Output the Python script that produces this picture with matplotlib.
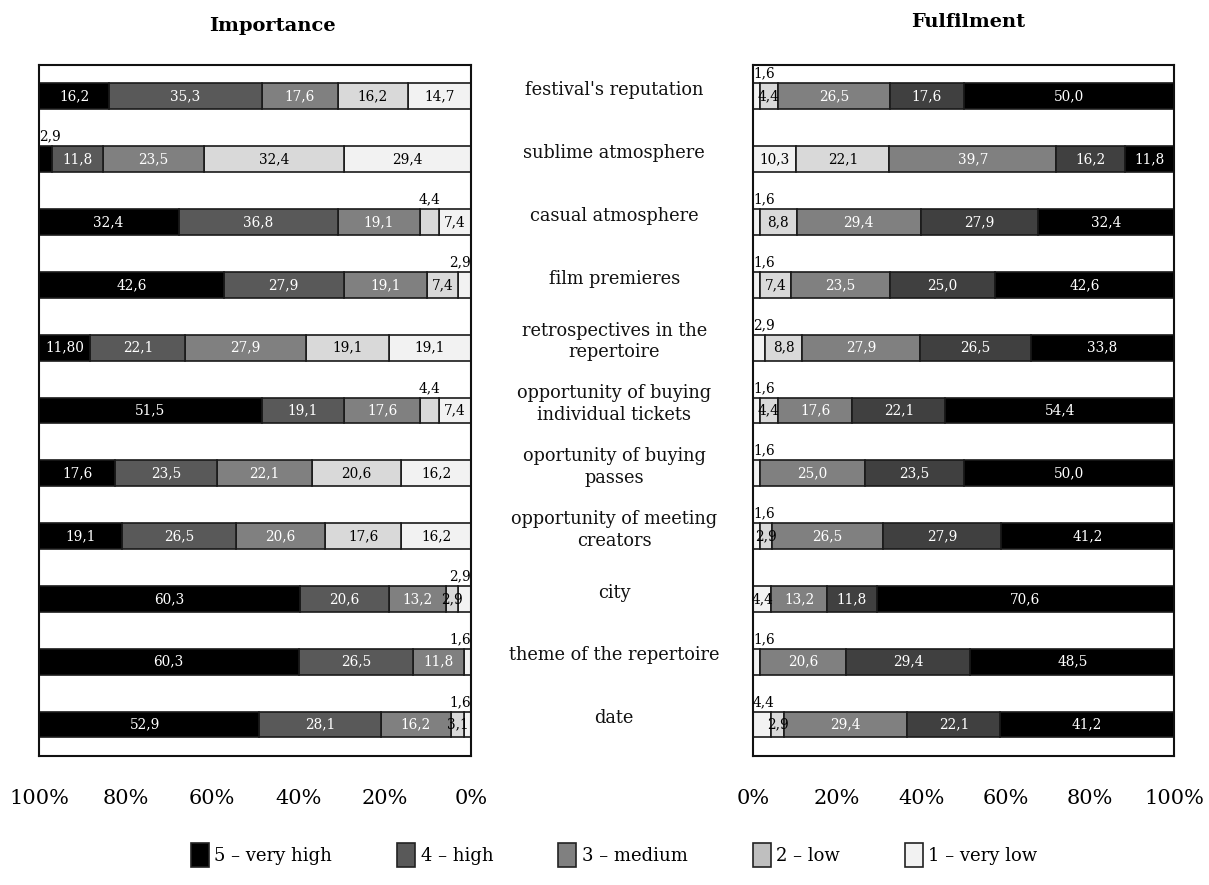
import matplotlib
matplotlib.use("Agg")
import matplotlib.pyplot as plt
import numpy as np
from matplotlib.patches import Patch
from matplotlib.transforms import blended_transform_factory

plt.rcParams['font.family'] = 'DejaVu Serif'

# --- data ---
categories = [
    "festival's reputation",
    "sublime atmosphere",
    "casual atmosphere",
    "film premieres",
    "retrospectives in the\nrepertoire",
    "opportunity of buying\nindividual tickets",
    "oportunity of buying\npasses",
    "opportunity of meeting\ncreators",
    "city",
    "theme of the repertoire",
    "date",
]
levels = ["1 – very low", "2 – low", "3 – medium", "4 – high", "5 – very high"]

# importance (%), one list per answer level
imp_very_low = [14.7, 29.4, 7.4, 2.9, 19.1, 7.4, 16.2, 16.2, 2.9, 1.6, 1.6]
imp_low = [16.2, 32.4, 4.4, 7.4, 19.1, 4.4, 20.6, 17.6, 2.9, 0.0, 3.1]
imp_medium = [17.6, 23.5, 19.1, 19.1, 27.9, 17.6, 22.1, 20.6, 13.2, 11.8, 16.2]
imp_high = [35.3, 11.8, 36.8, 27.9, 22.1, 19.1, 23.5, 26.5, 20.6, 26.5, 28.1]
imp_very_high = [16.2, 2.9, 32.4, 42.6, 11.8, 51.5, 17.6, 19.1, 60.3, 60.3, 52.9]

# fulfilment (%)
ful_very_low = [1.6, 10.3, 1.6, 1.6, 2.9, 1.6, 1.6, 1.6, 4.4, 1.6, 4.4]
ful_low = [4.4, 22.1, 8.8, 7.4, 8.8, 4.4, 0.0, 2.9, 0.0, 0.0, 2.9]
ful_medium = [26.5, 39.7, 29.4, 23.5, 27.9, 17.6, 25.0, 26.5, 13.2, 20.6, 29.4]
ful_high = [17.6, 16.2, 27.9, 25.0, 26.5, 22.1, 23.5, 27.9, 11.8, 29.4, 22.1]
ful_very_high = [50.0, 11.8, 32.4, 42.6, 33.8, 54.4, 50.0, 41.2, 70.6, 48.5, 41.2]

# label text that differs from plain one-decimal formatting
imp_label_text = {(4, 4): "11,80"}

# (row, level index) of small values whose label sits above the bar
imp_above = {(1, 4), (2, 1), (3, 0), (5, 1), (8, 0), (9, 0), (10, 0)}
ful_above = {(0, 0), (2, 0), (3, 0), (4, 0), (5, 0), (6, 0), (7, 0), (9, 0), (10, 0)}

# --- styling ---
imp_colors = ["#f2f2f2", "#d9d9d9", "#808080", "#595959", "#000000"]
ful_colors = ["#f2f2f2", "#d9d9d9", "#808080", "#404040", "#000000"]
text_colors = ["black", "black", "white", "white", "white"]
bar_h = 0.41

fig = plt.figure(figsize=(12.09, 8.85), dpi=100)
ax_l = fig.add_axes([0.0323, 0.1458, 0.3573, 0.7808])
ax_r = fig.add_axes([0.6228, 0.1458, 0.3482, 0.7808])

y = np.arange(len(categories))


def draw_panel(ax, series, colors, above, label_text, inverted):
    cum = np.zeros(len(categories))
    for k, vals in enumerate(series):
        vals = np.array(vals)
        for i, v in enumerate(vals):
            if v <= 0:
                continue
            ax.barh(y[i], v, left=cum[i], height=bar_h, color=colors[k],
                    edgecolor="#1a1a1a", linewidth=1.2)
            txt = label_text.get((i, k), f"{v:.1f}".replace(".", ","))
            start, end = cum[i], cum[i] + v
            if (i, k) in above:
                if start <= 0.01:
                    x, ha = 0, ("right" if inverted else "left")
                elif end >= 99.8:
                    x, ha = 100, ("left" if inverted else "right")
                else:
                    x, ha = (start + end) / 2, "center"
                ax.annotate(txt, (x, y[i] - bar_h / 2), xytext=(0, 2),
                            textcoords="offset points", ha=ha, va="bottom",
                            fontsize=9.8, color="black")
            else:
                ax.text((start + end) / 2, y[i], txt, ha="center", va="center",
                        fontsize=9.8, color=text_colors[k])
        cum += vals
    ax.set_ylim(len(categories) - 0.5, -0.5)
    ax.set_xlim((100, 0) if inverted else (0, 100))
    ax.set_yticks([])
    ax.set_xticks([0, 20, 40, 60, 80, 100])
    ax.set_xticklabels(["0%", "20%", "40%", "60%", "80%", "100%"])
    ax.tick_params(axis="x", length=0, pad=24, labelsize=15)
    for s in ax.spines.values():
        s.set_linewidth(1.5)
        s.set_color("#111111")


draw_panel(ax_l, [imp_very_low, imp_low, imp_medium, imp_high, imp_very_high],
           imp_colors, imp_above, imp_label_text, inverted=True)
draw_panel(ax_r, [ful_very_low, ful_low, ful_medium, ful_high, ful_very_high],
           ful_colors, ful_above, {}, inverted=False)

# category names between the two panels
trans = blended_transform_factory(fig.transFigure, ax_l.transData)
for i, name in enumerate(categories):
    fig.text(0.508, y[i] - 0.1, name, transform=trans, ha="center", va="center",
             fontsize=12.8, linespacing=1.25, color="#111111")

fig.text(0.225, 0.971, "Importance", ha="center", va="center",
         fontsize=14, fontweight="bold")
fig.text(0.801, 0.975, "Fulfilment", ha="center", va="center",
         fontsize=14, fontweight="bold")

handles = [Patch(facecolor=c, edgecolor="#222222", linewidth=1.2, label=l)
           for c, l in zip(["#000000", "#595959", "#808080", "#bfbfbf", "#f2f2f2"],
                           levels[::-1])]
fig.legend(handles=handles, loc="center", bbox_to_anchor=(0.508, 0.034), ncol=5,
           frameon=False, fontsize=13, handlelength=1.0, handleheight=1.7,
           handletextpad=0.3, columnspacing=3.6)

fig.savefig("out.png", dpi=100)
